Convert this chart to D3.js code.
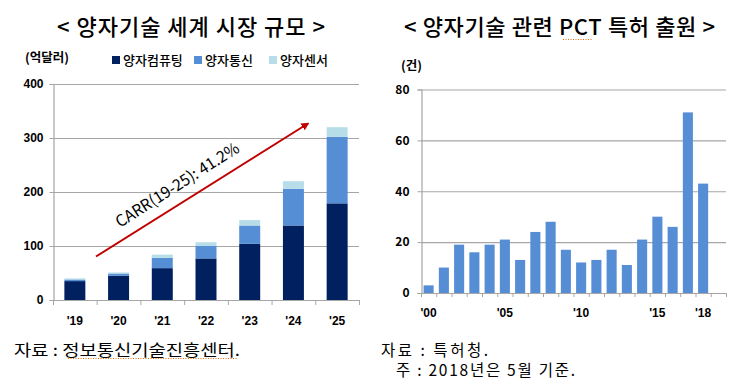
<!DOCTYPE html>
<html><head><meta charset="utf-8">
<script src="https://cdn.jsdelivr.net/npm/d3@7"></script>
<style>
body{margin:0;background:#fff;}
svg{display:block;}
text{font-family:"Noto Sans CJK KR","Noto Sans",sans-serif;fill:#000;}
.tick{font-family:"Liberation Sans",Arial,sans-serif;font-weight:bold;font-size:12px;}
</style></head>
<body>
<svg id="c" width="750" height="384"></svg>
<script>
// ---- Data: left chart (억달러)
const marketYears = ["'19","'20","'21","'22","'23","'24","'25"];
const computing = [35, 45, 59, 77, 104, 138, 179];
const communication = [3, 4, 19, 23, 34, 68, 123];
const sensor = [2, 2, 6, 7, 10, 14, 18];
const seriesNames = ["양자컴퓨팅","양자통신","양자센서"];
const marketTicks = [0,100,200,300,400];

// ---- Data: right chart (건)
const patentYears = ["2000","2001","2002","2003","2004","2005","2006","2007","2008","2009","2010","2011","2012","2013","2014","2015","2016","2017","2018","2019"];
const patents = [3,10,19,16,19,21,13,24,28,17,12,13,17,11,21,30,26,71,43,null];
const patentTicks = [0,20,40,60,80];
const patentLabels = {"2000":"'00","2005":"'05","2010":"'10","2015":"'15","2018":"'18"};

const colors = ["#002060","#558ED5","#B7DEE8"];
const grid = "#a6a6a6";
const svg = d3.select("#c");

// ================= LEFT =================
const L = {x0:53, x1:359, y0:300, y1:84};
const xL = d3.scaleBand().domain(marketYears).range([L.x0,L.x1]).paddingInner(0.52).paddingOuter(0.26);
const yL = d3.scaleLinear().domain([0,400]).range([L.y0,L.y1]);

svg.append("text").attr("x",191).attr("y",35).attr("text-anchor","middle")
  .attr("font-size",22).attr("font-weight",500).attr("textLength",268).attr("lengthAdjust","spacing")
  .text("< 양자기술 세계 시장 규모 >");
svg.append("text").attr("x",25).attr("y",62).attr("font-size",12.5).attr("font-weight","bold").text("(억달러)");

// legend
const legX = [112,194,269];
seriesNames.forEach((n,i)=>{
  svg.append("rect").attr("x",legX[i]).attr("y",56).attr("width",8).attr("height",8).attr("fill",colors[i]);
  svg.append("text").attr("x",legX[i]+11).attr("y",65).attr("font-size",13).attr("font-weight",500).text(n);
});

// gridlines
const gL = svg.append("g");
gL.selectAll("line.g").data(marketTicks.filter(d=>d>0)).join("line")
  .attr("x1",L.x0).attr("x2",L.x1).attr("y1",d=>yL(d)+0.5).attr("y2",d=>yL(d)+0.5)
  .attr("stroke",grid).attr("stroke-width",1.2);

// stacked bars
const stackData = marketYears.map((y,i)=>({year:y, c:computing[i], m:communication[i], s:sensor[i]}));
const stack = d3.stack().keys(["c","m","s"])(stackData);
stack.forEach((layer,li)=>{
  svg.append("g").selectAll("rect").data(layer).join("rect")
    .attr("x",d=>xL(d.data.year)).attr("width",xL.bandwidth())
    .attr("y",d=>yL(d[1])).attr("height",d=>yL(d[0])-yL(d[1]))
    .attr("fill",colors[li]);
});

// axes
const yAxL = d3.axisLeft(yL).tickValues(marketTicks).tickSize(4).tickPadding(6);
svg.append("g").attr("transform",`translate(${L.x0+0.5},0)`).call(yAxL)
  .call(g=>{g.select(".domain").attr("stroke",grid).attr("stroke-width",1.2);g.selectAll("line").attr("stroke",grid);
    g.selectAll("text").attr("class","tick").attr("font-size",12).attr("font-weight","bold").attr("font-family","Liberation Sans, Arial, sans-serif");});
const stepL = xL.step();
const xAxG = svg.append("g");
xAxG.append("line").attr("x1",L.x0).attr("x2",L.x1).attr("y1",L.y0+0.5).attr("y2",L.y0+0.5).attr("stroke",grid).attr("stroke-width",1.2);
xAxG.selectAll("line.t").data(d3.range(marketYears.length+1)).join("line")
  .attr("x1",i=>L.x0+i*stepL+0.5).attr("x2",i=>L.x0+i*stepL+0.5).attr("y1",L.y0).attr("y2",L.y0+5).attr("stroke",grid);
xAxG.selectAll("text").data(marketYears).join("text")
  .attr("x",d=>xL(d)+xL.bandwidth()/2).attr("y",325).attr("text-anchor","middle")
  .attr("class","tick").text(d=>d);

// arrow
const defs = svg.append("defs");
defs.append("marker").attr("id","arr").attr("viewBox","0 0 10 10").attr("refX",8).attr("refY",5)
  .attr("markerWidth",4).attr("markerHeight",4).attr("orient","auto")
  .append("path").attr("d","M0,0 L10,5 L0,10 z").attr("fill","#c00000");
svg.append("line").attr("x1",96).attr("y1",256.5).attr("x2",308).attr("y2",123.5)
  .attr("stroke","#c00000").attr("stroke-width",2).attr("marker-end","url(#arr)");
svg.append("text").attr("transform","translate(120,228) rotate(-32.5)")
  .attr("font-size",16).attr("textLength",143).attr("lengthAdjust","spacingAndGlyphs").text("CARR(19-25): 41.2%");

// footnote
svg.append("text").attr("x",14).attr("y",356).attr("font-size",15.5).attr("textLength",226).attr("lengthAdjust","spacingAndGlyphs").text("자료 : 정보통신기술진흥센터.");
svg.append("line").attr("x1",68).attr("x2",237).attr("y1",358.5).attr("y2",358.5)
  .attr("stroke","#e46c0a").attr("stroke-width",1).attr("stroke-dasharray","1,1.5");

// ================= RIGHT =================
const R = {x0:421, x1:726, y0:293, y1:89.5};
const xR = d3.scaleBand().domain(patentYears).range([R.x0,R.x1]).paddingInner(0.34).paddingOuter(0.17);
const yR = d3.scaleLinear().domain([0,80]).range([R.y0,R.y1]);

svg.append("text").attr("x",559.5).attr("y",35).attr("text-anchor","middle")
  .attr("font-size",22).attr("font-weight",500).attr("textLength",311).attr("lengthAdjust","spacing")
  .text("< 양자기술 관련 PCT 특허 출원 >");
svg.append("line").attr("x1",563).attr("x2",593).attr("y1",39.5).attr("y2",39.5)
  .attr("stroke","#e46c0a").attr("stroke-width",1).attr("stroke-dasharray","1,1.5");
svg.append("text").attr("x",401).attr("y",70).attr("font-size",12.5).attr("font-weight","bold").text("(건)");

svg.append("g").selectAll("line").data(patentTicks.filter(d=>d>0)).join("line")
  .attr("x1",R.x0).attr("x2",R.x1).attr("y1",d=>yR(d)+0.5).attr("y2",d=>yR(d)+0.5)
  .attr("stroke",grid).attr("stroke-width",1.2);

svg.append("g").selectAll("rect").data(patentYears.map((y,i)=>({y,v:patents[i]})).filter(d=>d.v!=null)).join("rect")
  .attr("x",d=>xR(d.y)).attr("width",xR.bandwidth())
  .attr("y",d=>yR(d.v)).attr("height",d=>yR(0)-yR(d.v)).attr("fill","#558ED5");

const yAxR = d3.axisLeft(yR).tickValues(patentTicks).tickSize(4).tickPadding(8);
svg.append("g").attr("transform",`translate(${R.x0+0.5},0)`).call(yAxR)
  .call(g=>{g.select(".domain").attr("stroke",grid).attr("stroke-width",1.2);g.selectAll("line").attr("stroke",grid);
    g.selectAll("text").attr("font-size",12).attr("font-weight","bold").attr("font-family","Liberation Sans, Arial, sans-serif");});
const stepR = xR.step();
const xAxR = svg.append("g");
xAxR.append("line").attr("x1",R.x0).attr("x2",R.x1).attr("y1",R.y0+0.5).attr("y2",R.y0+0.5).attr("stroke",grid).attr("stroke-width",1.2);
xAxR.selectAll("line.t").data(d3.range(patentYears.length+1)).join("line")
  .attr("x1",i=>R.x0+i*stepR+0.5).attr("x2",i=>R.x0+i*stepR+0.5).attr("y1",R.y0).attr("y2",R.y0+4).attr("stroke",grid);
xAxR.selectAll("text").data(Object.keys(patentLabels)).join("text")
  .attr("x",d=>xR(d)+xR.bandwidth()/2).attr("y",317).attr("text-anchor","middle")
  .attr("class","tick").text(d=>patentLabels[d]);

svg.append("text").attr("x",381).attr("y",356).attr("font-size",15.5).attr("textLength",107).attr("lengthAdjust","spacing").text("자료 : 특허청.");
svg.append("text").attr("x",396).attr("y",376).attr("font-size",15.5).attr("textLength",179).attr("lengthAdjust","spacing").text("주 : 2018년은 5월 기준.");
</script>
</body></html>
